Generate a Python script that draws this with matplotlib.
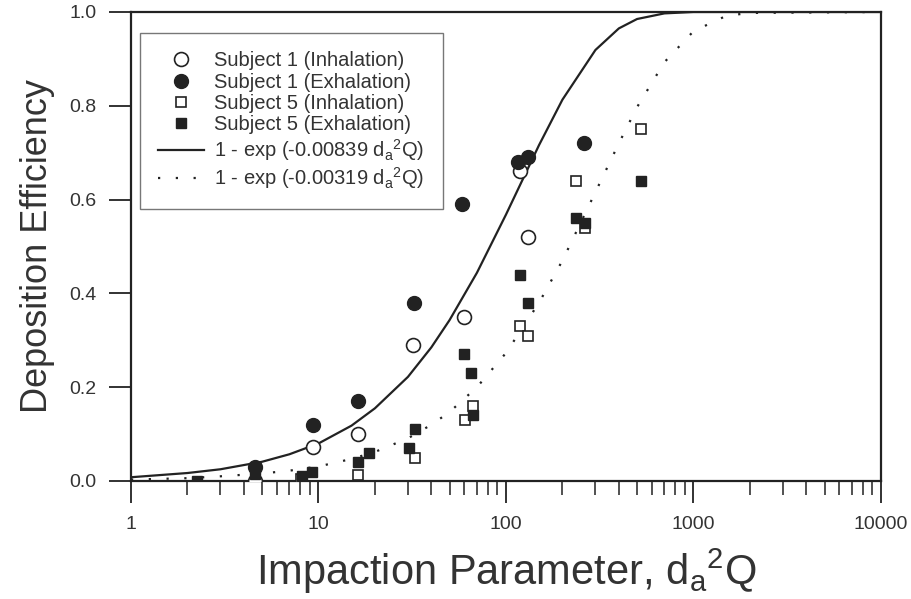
import numpy as np
import matplotlib.pyplot as plt
from matplotlib.ticker import LogLocator, NullFormatter, FixedLocator, FixedFormatter

plt.rcParams['font.family'] = ['Liberation Sans', 'DejaVu Sans']
plt.rcParams['mathtext.fontset'] = 'custom'
plt.rcParams['mathtext.rm'] = 'Liberation Sans'
plt.rcParams['mathtext.it'] = 'Liberation Sans'

# measured points
s1_inh_x = [4.6, 9.3, 16.2, 31.9, 59.7, 118.8, 131]
s1_inh_y = [0.0, 0.072, 0.10, 0.29, 0.35, 0.66, 0.52]
s1_exh_x = [4.6, 9.3, 16.2, 32.3, 58.5, 116, 131, 260]
s1_exh_y = [0.03, 0.12, 0.17, 0.38, 0.59, 0.68, 0.69, 0.72]
s5_inh_x = [8.1, 16.2, 32.7, 60.5, 66.6, 118.8, 131, 236, 264, 525]
s5_inh_y = [0.005, 0.012, 0.05, 0.13, 0.16, 0.33, 0.31, 0.64, 0.54, 0.75]
s5_exh_x = [2.25, 4.6, 8.2, 9.2, 16.2, 18.6, 30.3, 32.7, 59.7, 65.1, 66.6,
            118.8, 131, 236, 264, 525]
s5_exh_y = [0.0, 0.015, 0.01, 0.02, 0.04, 0.06, 0.07, 0.11, 0.27, 0.23, 0.14,
            0.44, 0.38, 0.56, 0.55, 0.64]

# fitted curves
fit_x = [1, 2, 3, 5, 7, 10, 15, 20, 30, 40, 50, 70, 100, 150, 200, 300, 400,
         500, 700, 1000, 1500, 2000, 10000]
fit1_y = [0.008, 0.017, 0.025, 0.041, 0.057, 0.080, 0.118, 0.155, 0.222, 0.285,
          0.343, 0.444, 0.568, 0.716, 0.813, 0.919, 0.965, 0.985, 0.997, 1.0,
          1.0, 1.0, 1.0]
fit2_y = [0.003, 0.006, 0.010, 0.016, 0.022, 0.031, 0.047, 0.062, 0.091, 0.120,
          0.147, 0.200, 0.273, 0.380, 0.470, 0.616, 0.720, 0.797, 0.893, 0.959,
          0.992, 0.998, 1.0]

fit1_label = r'1 - exp (-0.00839 d$_\mathregular{a}$$^\mathregular{2}$Q)'
fit2_label = r'1 - exp (-0.00319 d$_\mathregular{a}$$^\mathregular{2}$Q)'

ink = '#222222'
txt = '#333333'

fig = plt.figure(figsize=(9.12, 5.99), dpi=100)
ax = fig.add_axes([0.1436, 0.197, 0.8224, 0.783])

ax.plot(s1_inh_x, s1_inh_y, 'o', ms=10, mfc='white', mec=ink, mew=1.2,
        ls='none', label='Subject 1 (Inhalation)', zorder=3)
ax.plot(s1_exh_x, s1_exh_y, 'o', ms=10, mfc=ink, mec=ink, ls='none',
        label='Subject 1 (Exhalation)', zorder=4)
ax.plot(s5_inh_x, s5_inh_y, 's', ms=7, mfc='white', mec=ink, mew=1.2,
        ls='none', label='Subject 5 (Inhalation)', zorder=3)
ax.plot(s5_exh_x, s5_exh_y, 's', ms=7, mfc=ink, mec=ink, ls='none',
        label='Subject 5 (Exhalation)', zorder=4)
ax.plot(fit_x, fit1_y, '-', color=ink, lw=1.6, label=fit1_label, zorder=2)
ax.plot(fit_x, fit2_y, color=ink, lw=1.6, dashes=(1, 7), label=fit2_label,
        zorder=2)

ax.set_xscale('log')
ax.set_xlim(1, 10000)
ax.set_ylim(0, 1.0)

ax.xaxis.set_major_locator(FixedLocator([1, 10, 100, 1000, 10000]))
ax.xaxis.set_major_formatter(FixedFormatter(['1', '10', '100', '1000', '10000']))
ax.xaxis.set_minor_locator(LogLocator(base=10, subs=np.arange(2, 10)))
ax.xaxis.set_minor_formatter(NullFormatter())
ax.set_yticks([0, 0.2, 0.4, 0.6, 0.8, 1.0])
ax.set_yticklabels(['0.0', '0.2', '0.4', '0.6', '0.8', '1.0'])

ax.tick_params(which='major', direction='out', length=16, width=1.3,
               labelsize=14, pad=9, color=ink, labelcolor=txt)
ax.tick_params(which='minor', direction='out', length=10, width=1.1, color=ink)
for s in ax.spines.values():
    s.set_linewidth(1.6)
    s.set_color(ink)

ax.set_xlabel(r'Impaction Parameter, d$_\mathregular{a}$$^\mathregular{2}$Q',
              fontsize=30, color=txt, labelpad=10)
ax.set_ylabel('Deposition Efficiency', fontsize=26, color=txt, labelpad=10)

leg = ax.legend(loc='upper left', bbox_to_anchor=(0.012, 0.955),
                borderaxespad=0, fontsize=14.5, frameon=True, fancybox=False,
                edgecolor='#555555', handlelength=2.3, labelspacing=0.12,
                handletextpad=0.5, borderpad=0.9, numpoints=1)
leg.get_frame().set_linewidth(1.0)
for t in leg.get_texts():
    t.set_color(txt)

fig.savefig('out.png', dpi=100)
